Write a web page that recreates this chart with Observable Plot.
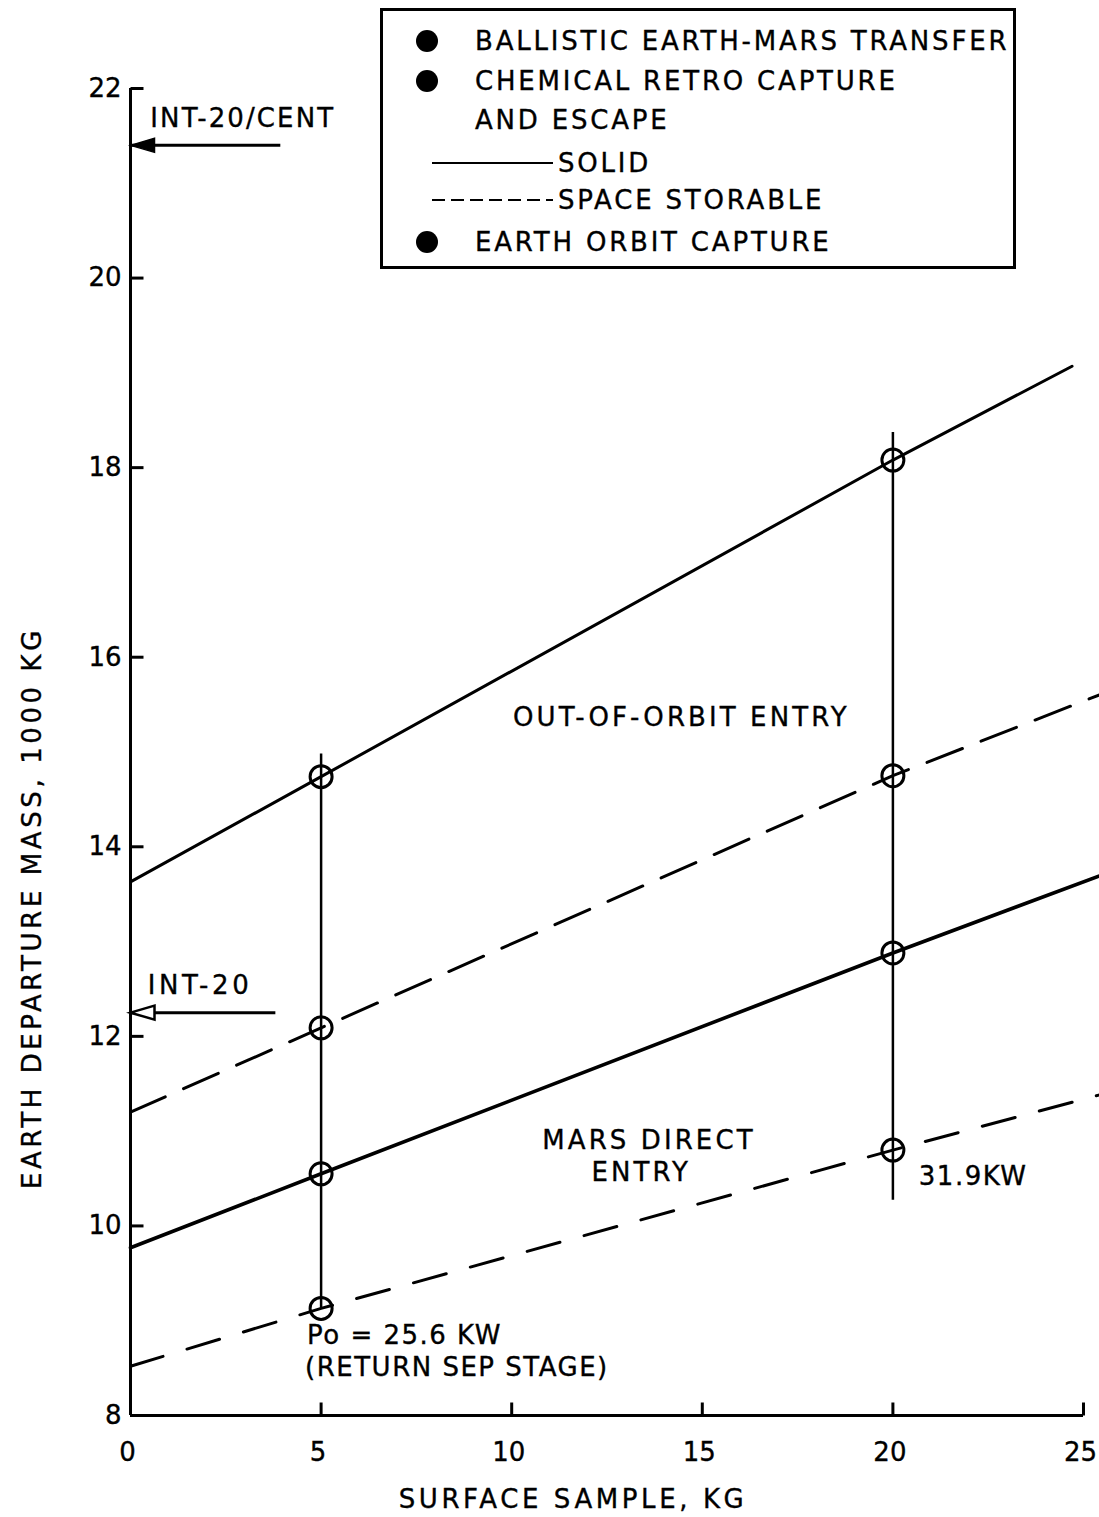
<!DOCTYPE html>
<html>
<head>
<meta charset="utf-8">
<script src="https://cdn.jsdelivr.net/npm/d3@7"></script>
<script src="https://cdn.jsdelivr.net/npm/@observablehq/plot@0.6"></script>
<style>
  html, body { margin: 0; padding: 0; background: #fff; }
  #wrap { position: relative; width: 1099px; height: 1517px; }
  #wrap svg { font-family: "DejaVu Sans", sans-serif; }
  #wrap svg text { stroke: black; stroke-width: 0.35px; }
  #legend { position: absolute; left: 0; top: 0; }
  .lbl-tick { font-size: 26px; letter-spacing: 0px; }
  .lbl-axis { font-size: 26px; letter-spacing: 3.6px; }
  .lbl-note { font-size: 26px; letter-spacing: 3.1px; }
  .lbl-lv1 { font-size: 26px; letter-spacing: 2.1px; }
  .lbl-lv2 { font-size: 26px; letter-spacing: 3.6px; }
  .lbl-small { font-size: 26px; letter-spacing: 1.5px; }
  .lbl-legend { font-size: 26px; letter-spacing: 2.8px; }
</style>
</head>
<body>
<div id="wrap"></div>
<script>
// ---- data ----
const xTicks = [0, 5, 10, 15, 20, 25];
const yTicks = [8, 10, 12, 14, 16, 18, 20, 22];

const seriesNames = ["Out-of-orbit entry, solid", "Out-of-orbit entry, space storable",
                     "Mars direct entry, solid", "Mars direct entry, space storable"];
const seriesDashed = [false, true, false, true];
const seriesX = [[0, 5, 20, 24.7], [0, 5, 20, 25.4], [0, 5, 20, 25.4], [0, 5, 20, 25.4]];
const seriesY = [[13.63, 14.74, 18.08, 19.07], [11.2, 12.09, 14.75, 15.6],
                 [9.77, 10.55, 12.88, 13.69], [8.52, 9.13, 10.8, 11.38]];
// design points (circles) at 5 and 20 kg
const pointX = [5, 5, 5, 5, 20, 20, 20, 20];
const pointY = [14.74, 12.09, 10.55, 9.13, 18.08, 14.75, 12.88, 10.8];
// vertical connectors
const vX = [5, 20];
const vY1 = [9.13, 10.27];
const vY2 = [14.98, 18.37];
// launch vehicle capability arrows
const lvNames = ["INT-20/CENT", "INT-20"];
const lvY = [21.4, 12.25];
const lvFrom = [3.93, 3.8];
const lvLabelX = [0.52, 0.45];
const lvLabelY = [21.68, 12.54];
// annotations
const noteText = ["OUT-OF-ORBIT ENTRY", "MARS DIRECT", "ENTRY", "Po = 25.6 KW", "(RETURN SEP STAGE)", "31.9KW"];
const noteX = [14.45, 13.6, 13.4, 4.63, 4.58, 20.68];
const noteY = [15.36, 10.9, 10.56, 8.84, 8.5, 10.52];
const noteAnchor = ["middle", "middle", "middle", "start", "start", "start"];
// legend
const legendLabels = ["BALLISTIC EARTH-MARS TRANSFER", "CHEMICAL RETRO CAPTURE", "AND ESCAPE", "SOLID", "SPACE STORABLE", "EARTH ORBIT CAPTURE"];
const legendKinds = ["dot", "dot", "none", "solid", "dashed", "dot"];

// ---- build tables ----
const lines = seriesNames.flatMap((name, i) =>
  seriesX[i].map((x, j) => ({name, x, y: seriesY[i][j], dashed: seriesDashed[i], idx: i})));
const points = pointX.map((x, i) => ({x, y: pointY[i]}));
const verticals = vX.map((x, i) => ({x, y1: vY1[i], y2: vY2[i]}));
const arrows = lvNames.map((n, i) => ({name: n, x1: lvFrom[i], x2: 0, y: lvY[i], lx: lvLabelX[i], ly: lvLabelY[i], filled: i === 0}));
const notes = noteText.map((t, i) => ({t, x: noteX[i], y: noteY[i], a: noteAnchor[i]}));

const tickUp = {draw(ctx) { ctx.moveTo(0, 0); ctx.lineTo(0, -13); }};
const tickRight = {draw(ctx) { ctx.moveTo(0, 0); ctx.lineTo(13, 0); }};
const headLeft = {draw(ctx) { ctx.moveTo(0, 0); ctx.lineTo(24, -7); ctx.lineTo(24, 7); ctx.closePath(); }};

const styleLine = (i) => ({
  strokeWidth: i === 2 ? 3.6 : 3,
  strokeDasharray: i === 1 ? "38,20" : i === 3 ? "34,25" : null
});

const plot = Plot.plot({
  width: 1099,
  height: 1517,
  marginLeft: 130,
  marginRight: 16,
  marginTop: 88,
  marginBottom: 102,
  style: {fontFamily: "DejaVu Sans", background: "white", color: "black"},
  x: {domain: [0, 25]},
  y: {domain: [8, 22]},
  marks: [
    // axes
    Plot.ruleX([0], {y1: 8, y2: 22, stroke: "black", strokeWidth: 3}),
    Plot.ruleY([8], {x1: 0, x2: 25, stroke: "black", strokeWidth: 3}),
    Plot.dot(xTicks.filter(d => d > 0), {x: d => d, y: 8, symbol: tickUp, stroke: "black", strokeWidth: 3, fill: "none"}),
    Plot.dot(yTicks, {x: 0, y: d => d, symbol: tickRight, stroke: "black", strokeWidth: 3, fill: "none"}),
    Plot.axisX(xTicks, {tickSize: 0, tickPadding: 27, label: null, tickFormat: "d", dx: -3, className: "lbl-tick"}),
    Plot.axisY(yTicks, {tickSize: 0, tickPadding: 9, label: null, tickFormat: "d", className: "lbl-tick"}),
    Plot.text(["SURFACE SAMPLE, KG"], {frameAnchor: "bottom", dx: -34, dy: 92, className: "lbl-axis"}),
    Plot.text(["EARTH DEPARTURE MASS, 1000 KG"], {frameAnchor: "left", textAnchor: "middle", rotate: -90, dx: -98, dy: 156, className: "lbl-axis"}),
    // vertical connectors
    Plot.ruleX(verticals, {x: "x", y1: "y1", y2: "y2", stroke: "black", strokeWidth: 2.5}),
    // series lines
    ...seriesNames.map((n, i) => Plot.line(lines.filter(d => d.idx === i), {x: "x", y: "y", stroke: "black", ...styleLine(i)})),
    // design points
    Plot.dot(points, {x: "x", y: "y", r: 11, stroke: "black", strokeWidth: 3, fill: "none"}),
    // LV arrows
    Plot.link(arrows, {x1: "x1", x2: "x2", y1: "y", y2: "y", stroke: "black", strokeWidth: 3}),
    Plot.dot(arrows.filter(d => d.filled), {x: "x2", y: "y", symbol: headLeft, fill: "black", stroke: "black", strokeWidth: 1.5}),
    Plot.dot(arrows.filter(d => !d.filled), {x: "x2", y: "y", symbol: headLeft, fill: "white", stroke: "black", strokeWidth: 2.5}),
    Plot.text(arrows.filter(d => d.filled), {x: "lx", y: "ly", text: "name", textAnchor: "start", className: "lbl-lv1"}),
    Plot.text(arrows.filter(d => !d.filled), {x: "lx", y: "ly", text: "name", textAnchor: "start", className: "lbl-lv2"}),
    // notes
    Plot.text(notes.filter(d => d.a === "middle"), {x: "x", y: "y", text: "t", textAnchor: "middle", className: "lbl-note"}),
    Plot.text(notes.filter(d => d.a === "start"), {x: "x", y: "y", text: "t", textAnchor: "start", className: "lbl-small"})
  ]
});

const wrap = document.getElementById("wrap");
wrap.appendChild(plot);

// ---- legend box overlay ----
const legend = d3.select(wrap).append("svg")
  .attr("id", "legend").attr("width", 1099).attr("height", 290)
  .style("font-family", "DejaVu Sans");
const g = legend.append("g").attr("transform", "translate(380,8)");
g.append("rect").attr("x", 1.5).attr("y", 1.5).attr("width", 633).attr("height", 258)
  .attr("fill", "white").attr("stroke", "black").attr("stroke-width", 3);
const rowYs = [33, 73, 112, 155, 192, 234];
legendLabels.forEach((label, i) => {
  const y = rowYs[i];
  const kind = legendKinds[i];
  if (kind === "dot") {
    g.append("circle").attr("cx", 47).attr("cy", y).attr("r", 11).attr("fill", "black");
  }
  if (kind === "solid" || kind === "dashed") {
    g.append("line").attr("x1", 52).attr("x2", 173).attr("y1", y).attr("y2", y)
      .attr("stroke", "black").attr("stroke-width", 2.2)
      .attr("stroke-dasharray", kind === "dashed" ? "13,6" : null);
  }
  g.append("text")
    .attr("class", "lbl-legend")
    .attr("x", (kind === "solid" || kind === "dashed") ? 178 : 95)
    .attr("y", y).attr("dy", "0.36em")
    .text(label);
});
</script>
</body>
</html>
